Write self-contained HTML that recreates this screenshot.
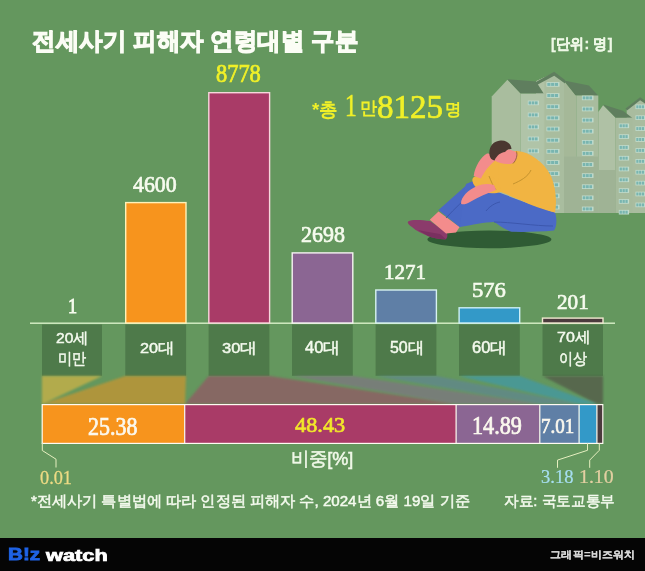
<!DOCTYPE html>
<html><head><meta charset="utf-8">
<style>
html,body{margin:0;padding:0;}
body{width:645px;height:571px;position:relative;overflow:hidden;background:#64975e;font-family:"Liberation Sans",sans-serif;}
.t{position:absolute;white-space:nowrap;line-height:1;transform-origin:0 0;}
.s{font-family:"Liberation Serif",serif;-webkit-text-stroke-width:0.7px;}
svg{position:absolute;left:0;top:0;}
</style></head><body>
<svg width="645" height="571" viewBox="0 0 645 571">
  <!-- baseline -->
  <rect x="30" y="322.5" width="585" height="1.4" fill="#d8f0c8"/>
  <!-- bars -->
  <g stroke-width="1.4">
    <rect x="125.7" y="202.6" width="60.3" height="120.4" fill="#f7941d" stroke="#fff2b8"/>
    <rect x="208.8" y="92.7" width="60.8" height="230.3" fill="#a93b67" stroke="#f8d6dc"/>
    <rect x="292.2" y="252.9" width="60.6" height="70.1" fill="#8b6693" stroke="#f6f4f2"/>
    <rect x="375.8" y="290" width="60.6" height="33" fill="#5f7fa6" stroke="#d8f2f0"/>
    <rect x="459.1" y="307.8" width="60.6" height="15.2" fill="#3399c8" stroke="#cdeff6"/>
    <rect x="542.5" y="318.1" width="60.5" height="4.9" fill="#4b3b3d" stroke="#f0e8d0"/>
  </g>
  <!-- label boxes -->
  <g fill="#4e7a4a">
    <rect x="42" y="324.5" width="60" height="51.3"/>
    <rect x="125.3" y="324.5" width="60.8" height="51.3"/>
    <rect x="208.6" y="324.5" width="60.8" height="51.3"/>
    <rect x="292" y="324.5" width="60.8" height="51.3"/>
    <rect x="375.6" y="324.5" width="60.8" height="51.3"/>
    <rect x="459" y="324.5" width="60.8" height="51.3"/>
    <rect x="542.5" y="324.5" width="60.5" height="51.3"/>
  </g>
  <!-- projections -->
  <defs><filter id="bl" x="-5%" y="-20%" width="110%" height="140%"><feGaussianBlur stdDeviation="1.1"/></filter></defs>
  <g opacity="0.5" filter="url(#bl)">
    <polygon points="42,376 102,376 42.5,404 42,404" fill="#ffc03a"/>
    <polygon points="125.3,376 186,376 185,404 42,404" fill="#f7941d"/>
    <polygon points="208.6,376 269.4,376 456,404 185,404" fill="#a93b67"/>
    <polygon points="292,376 352.8,376 539.6,404 456,404" fill="#8b6693"/>
    <polygon points="375.6,376 436.4,376 579,404 539.6,404" fill="#5f7fa6"/>
    <polygon points="459,376 519.8,376 596.8,404 579,404" fill="#3399c8"/>
    <polygon points="542.5,376 603,376 603,404 596.8,404" fill="#4b3b3d"/>
  </g>
  <!-- stacked bar -->
  <g>
    <rect x="42" y="404.6" width="142.4" height="38.8" fill="#f7941d"/>
    <rect x="184.4" y="404.6" width="271.7" height="38.8" fill="#a93b67"/>
    <rect x="456.1" y="404.6" width="83.5" height="38.8" fill="#8b6693"/>
    <rect x="539.6" y="404.6" width="39.3" height="38.8" fill="#5f7fa6"/>
    <rect x="578.9" y="404.6" width="17.9" height="38.8" fill="#3399c8"/>
    <rect x="596.8" y="404.6" width="6.2" height="38.8" fill="#4b3b3d"/>
  </g>
  <g fill="none" stroke="#fffbf2" stroke-width="1.2">
    <rect x="42.2" y="404.6" width="560.6" height="38.8"/>
    <line x1="184.7" y1="404.6" x2="184.7" y2="443.4"/>
    <line x1="456.1" y1="404.6" x2="456.1" y2="443.4"/>
    <line x1="539.8" y1="404.6" x2="539.8" y2="443.4"/>
    <line x1="579.1" y1="404.6" x2="579.1" y2="443.4"/>
    <line x1="596.9" y1="404.6" x2="596.9" y2="443.4"/>
  </g>
  <!-- leader lines -->
  <g fill="none" stroke="#e6efc0" stroke-width="1">
    <polyline points="42.3,443 42.3,450.5 56,459.2 56,467.5"/>
    <polyline points="587.5,443 587.5,450.3 557.5,460.1 557.5,467.8"/>
    <polyline points="599.3,443 599.3,450.3 589.7,460.1 589.7,467.8"/>
  </g>

  <!-- illustration: buildings -->
  <g id="bld">
    <!-- building 4 far right -->
    <polygon points="626.7,213 626.7,108 640.1,98.1 645,101.5 645,213" fill="#a9bc9f"/>
    <polygon points="625.5,108.5 640.1,97.3 645,100.5 645,103.5 640.1,100.2 627,110.5" fill="#5f7e5e"/>
    <!-- building 3 -->
    <polygon points="598.3,213 598.3,112 603.1,105.2 615.7,117.8 615.7,213" fill="#afc1a5"/>
    <polygon points="603.1,104.6 622.8,110.7 632.2,117.8 615.7,117.8" fill="#5f7e5e"/>
    <rect x="615.7" y="117.8" width="16.5" height="95.2" fill="#a7bb9d"/>
    <rect x="598.3" y="170" width="17.4" height="43" fill="#9fb395"/>
    <!-- building 2 right block -->
    <polygon points="564,213 564,81 575.5,95 576.3,95.5 576.3,213" fill="#a5b898"/>
    <polygon points="564,80.6 588.9,85.5 598.3,95.7 575.5,95.2" fill="#5f7e5e"/>
    <rect x="576.3" y="95.5" width="22" height="117.5" fill="#a8bc9e"/>
    <rect x="564" y="156.5" width="34.3" height="56.5" fill="#9fb395"/>
    <!-- tower -->
    <polygon points="536,213 536,81.2 554.2,72.7 564,81 564,213" fill="#a9bd9f"/>
    <polygon points="536,81.2 544.4,77.3 544.4,213 536,213" fill="#b1c3a6"/>
    <polygon points="535,82.5 554.2,71.8 565,80 565,83.5 554.2,75.8 535,86" fill="#5f7e5e"/>
    <!-- building 1 -->
    <polygon points="491.7,213 491.7,96.4 507.4,79.7 520.7,93.6 520.7,213" fill="#a9bd9e"/>
    <polygon points="507.4,79.3 536,81.4 543.7,93.6 520.7,93.6" fill="#5f7e5e"/>
    <rect x="520.7" y="93.6" width="23" height="119.4" fill="#b0c4a8"/>
  </g>
  <g>
    <rect x="527.8" y="100.6" width="11.2" height="4.6" fill="#c2dccd"/>
    <rect x="528.60" y="101.4" width="2.60" height="3.0" fill="#78b5b0"/>
    <rect x="531.80" y="101.4" width="2.60" height="3.0" fill="#78b5b0"/>
    <rect x="535.00" y="101.4" width="2.60" height="3.0" fill="#78b5b0"/>
    <rect x="527.8" y="112.6" width="11.2" height="4.6" fill="#c2dccd"/>
    <rect x="528.60" y="113.4" width="2.60" height="3.0" fill="#78b5b0"/>
    <rect x="531.80" y="113.4" width="2.60" height="3.0" fill="#78b5b0"/>
    <rect x="535.00" y="113.4" width="2.60" height="3.0" fill="#78b5b0"/>
    <rect x="527.8" y="124.6" width="11.2" height="4.6" fill="#c2dccd"/>
    <rect x="528.60" y="125.4" width="2.60" height="3.0" fill="#78b5b0"/>
    <rect x="531.80" y="125.4" width="2.60" height="3.0" fill="#78b5b0"/>
    <rect x="535.00" y="125.4" width="2.60" height="3.0" fill="#78b5b0"/>
    <rect x="527.8" y="136.6" width="11.2" height="4.6" fill="#c2dccd"/>
    <rect x="528.60" y="137.4" width="2.60" height="3.0" fill="#78b5b0"/>
    <rect x="531.80" y="137.4" width="2.60" height="3.0" fill="#78b5b0"/>
    <rect x="535.00" y="137.4" width="2.60" height="3.0" fill="#78b5b0"/>
    <rect x="527.8" y="148.6" width="11.2" height="4.6" fill="#c2dccd"/>
    <rect x="528.60" y="149.4" width="2.60" height="3.0" fill="#78b5b0"/>
    <rect x="531.80" y="149.4" width="2.60" height="3.0" fill="#78b5b0"/>
    <rect x="535.00" y="149.4" width="2.60" height="3.0" fill="#78b5b0"/>
    <rect x="527.8" y="160.6" width="11.2" height="4.6" fill="#c2dccd"/>
    <rect x="528.60" y="161.4" width="2.60" height="3.0" fill="#78b5b0"/>
    <rect x="531.80" y="161.4" width="2.60" height="3.0" fill="#78b5b0"/>
    <rect x="535.00" y="161.4" width="2.60" height="3.0" fill="#78b5b0"/>
    <rect x="527.8" y="172.6" width="11.2" height="4.6" fill="#c2dccd"/>
    <rect x="528.60" y="173.4" width="2.60" height="3.0" fill="#78b5b0"/>
    <rect x="531.80" y="173.4" width="2.60" height="3.0" fill="#78b5b0"/>
    <rect x="535.00" y="173.4" width="2.60" height="3.0" fill="#78b5b0"/>
    <rect x="527.8" y="184.6" width="11.2" height="4.6" fill="#c2dccd"/>
    <rect x="528.60" y="185.4" width="2.60" height="3.0" fill="#78b5b0"/>
    <rect x="531.80" y="185.4" width="2.60" height="3.0" fill="#78b5b0"/>
    <rect x="535.00" y="185.4" width="2.60" height="3.0" fill="#78b5b0"/>
    <rect x="527.8" y="196.6" width="11.2" height="4.6" fill="#c2dccd"/>
    <rect x="528.60" y="197.4" width="2.60" height="3.0" fill="#78b5b0"/>
    <rect x="531.80" y="197.4" width="2.60" height="3.0" fill="#78b5b0"/>
    <rect x="535.00" y="197.4" width="2.60" height="3.0" fill="#78b5b0"/>
    <rect x="527.8" y="208.6" width="11.2" height="4.6" fill="#c2dccd"/>
    <rect x="528.60" y="209.4" width="2.60" height="3.0" fill="#78b5b0"/>
    <rect x="531.80" y="209.4" width="2.60" height="3.0" fill="#78b5b0"/>
    <rect x="535.00" y="209.4" width="2.60" height="3.0" fill="#78b5b0"/>
    <rect x="546.5" y="82.1" width="13" height="4.6" fill="#c2dccd"/>
    <rect x="547.30" y="82.9" width="3.20" height="3.0" fill="#78b5b0"/>
    <rect x="551.10" y="82.9" width="3.20" height="3.0" fill="#78b5b0"/>
    <rect x="554.90" y="82.9" width="3.20" height="3.0" fill="#78b5b0"/>
    <rect x="546.5" y="93.2" width="13" height="4.6" fill="#c2dccd"/>
    <rect x="547.30" y="94.0" width="3.20" height="3.0" fill="#78b5b0"/>
    <rect x="551.10" y="94.0" width="3.20" height="3.0" fill="#78b5b0"/>
    <rect x="554.90" y="94.0" width="3.20" height="3.0" fill="#78b5b0"/>
    <rect x="546.5" y="104.4" width="13" height="4.6" fill="#c2dccd"/>
    <rect x="547.30" y="105.2" width="3.20" height="3.0" fill="#78b5b0"/>
    <rect x="551.10" y="105.2" width="3.20" height="3.0" fill="#78b5b0"/>
    <rect x="554.90" y="105.2" width="3.20" height="3.0" fill="#78b5b0"/>
    <rect x="546.5" y="115.6" width="13" height="4.6" fill="#c2dccd"/>
    <rect x="547.30" y="116.4" width="3.20" height="3.0" fill="#78b5b0"/>
    <rect x="551.10" y="116.4" width="3.20" height="3.0" fill="#78b5b0"/>
    <rect x="554.90" y="116.4" width="3.20" height="3.0" fill="#78b5b0"/>
    <rect x="546.5" y="126.7" width="13" height="4.6" fill="#c2dccd"/>
    <rect x="547.30" y="127.5" width="3.20" height="3.0" fill="#78b5b0"/>
    <rect x="551.10" y="127.5" width="3.20" height="3.0" fill="#78b5b0"/>
    <rect x="554.90" y="127.5" width="3.20" height="3.0" fill="#78b5b0"/>
    <rect x="546.5" y="137.9" width="13" height="4.6" fill="#c2dccd"/>
    <rect x="547.30" y="138.7" width="3.20" height="3.0" fill="#78b5b0"/>
    <rect x="551.10" y="138.7" width="3.20" height="3.0" fill="#78b5b0"/>
    <rect x="554.90" y="138.7" width="3.20" height="3.0" fill="#78b5b0"/>
    <rect x="546.5" y="149.0" width="13" height="4.6" fill="#c2dccd"/>
    <rect x="547.30" y="149.8" width="3.20" height="3.0" fill="#78b5b0"/>
    <rect x="551.10" y="149.8" width="3.20" height="3.0" fill="#78b5b0"/>
    <rect x="554.90" y="149.8" width="3.20" height="3.0" fill="#78b5b0"/>
    <rect x="546.5" y="160.2" width="13" height="4.6" fill="#c2dccd"/>
    <rect x="547.30" y="161.0" width="3.20" height="3.0" fill="#78b5b0"/>
    <rect x="551.10" y="161.0" width="3.20" height="3.0" fill="#78b5b0"/>
    <rect x="554.90" y="161.0" width="3.20" height="3.0" fill="#78b5b0"/>
    <rect x="546.5" y="171.3" width="13" height="4.6" fill="#c2dccd"/>
    <rect x="547.30" y="172.1" width="3.20" height="3.0" fill="#78b5b0"/>
    <rect x="551.10" y="172.1" width="3.20" height="3.0" fill="#78b5b0"/>
    <rect x="554.90" y="172.1" width="3.20" height="3.0" fill="#78b5b0"/>
    <rect x="546.5" y="182.5" width="13" height="4.6" fill="#c2dccd"/>
    <rect x="547.30" y="183.3" width="3.20" height="3.0" fill="#78b5b0"/>
    <rect x="551.10" y="183.3" width="3.20" height="3.0" fill="#78b5b0"/>
    <rect x="554.90" y="183.3" width="3.20" height="3.0" fill="#78b5b0"/>
    <rect x="546.5" y="193.6" width="13" height="4.6" fill="#c2dccd"/>
    <rect x="547.30" y="194.4" width="3.20" height="3.0" fill="#78b5b0"/>
    <rect x="551.10" y="194.4" width="3.20" height="3.0" fill="#78b5b0"/>
    <rect x="554.90" y="194.4" width="3.20" height="3.0" fill="#78b5b0"/>
    <rect x="546.5" y="204.8" width="13" height="4.6" fill="#c2dccd"/>
    <rect x="547.30" y="205.6" width="3.20" height="3.0" fill="#78b5b0"/>
    <rect x="551.10" y="205.6" width="3.20" height="3.0" fill="#78b5b0"/>
    <rect x="554.90" y="205.6" width="3.20" height="3.0" fill="#78b5b0"/>
    <rect x="581.9" y="95.6" width="11.6" height="4.6" fill="#c2dccd"/>
    <rect x="582.70" y="96.4" width="2.73" height="3.0" fill="#78b5b0"/>
    <rect x="586.03" y="96.4" width="2.73" height="3.0" fill="#78b5b0"/>
    <rect x="589.37" y="96.4" width="2.73" height="3.0" fill="#78b5b0"/>
    <rect x="581.9" y="106.7" width="11.6" height="4.6" fill="#c2dccd"/>
    <rect x="582.70" y="107.5" width="2.73" height="3.0" fill="#78b5b0"/>
    <rect x="586.03" y="107.5" width="2.73" height="3.0" fill="#78b5b0"/>
    <rect x="589.37" y="107.5" width="2.73" height="3.0" fill="#78b5b0"/>
    <rect x="581.9" y="117.8" width="11.6" height="4.6" fill="#c2dccd"/>
    <rect x="582.70" y="118.6" width="2.73" height="3.0" fill="#78b5b0"/>
    <rect x="586.03" y="118.6" width="2.73" height="3.0" fill="#78b5b0"/>
    <rect x="589.37" y="118.6" width="2.73" height="3.0" fill="#78b5b0"/>
    <rect x="581.9" y="128.9" width="11.6" height="4.6" fill="#c2dccd"/>
    <rect x="582.70" y="129.7" width="2.73" height="3.0" fill="#78b5b0"/>
    <rect x="586.03" y="129.7" width="2.73" height="3.0" fill="#78b5b0"/>
    <rect x="589.37" y="129.7" width="2.73" height="3.0" fill="#78b5b0"/>
    <rect x="581.9" y="140.0" width="11.6" height="4.6" fill="#c2dccd"/>
    <rect x="582.70" y="140.8" width="2.73" height="3.0" fill="#78b5b0"/>
    <rect x="586.03" y="140.8" width="2.73" height="3.0" fill="#78b5b0"/>
    <rect x="589.37" y="140.8" width="2.73" height="3.0" fill="#78b5b0"/>
    <rect x="581.9" y="151.1" width="11.6" height="4.6" fill="#c2dccd"/>
    <rect x="582.70" y="151.9" width="2.73" height="3.0" fill="#78b5b0"/>
    <rect x="586.03" y="151.9" width="2.73" height="3.0" fill="#78b5b0"/>
    <rect x="589.37" y="151.9" width="2.73" height="3.0" fill="#78b5b0"/>
    <rect x="581.9" y="162.2" width="11.6" height="4.6" fill="#c2dccd"/>
    <rect x="582.70" y="163.0" width="2.73" height="3.0" fill="#78b5b0"/>
    <rect x="586.03" y="163.0" width="2.73" height="3.0" fill="#78b5b0"/>
    <rect x="589.37" y="163.0" width="2.73" height="3.0" fill="#78b5b0"/>
    <rect x="581.9" y="173.3" width="11.6" height="4.6" fill="#c2dccd"/>
    <rect x="582.70" y="174.1" width="2.73" height="3.0" fill="#78b5b0"/>
    <rect x="586.03" y="174.1" width="2.73" height="3.0" fill="#78b5b0"/>
    <rect x="589.37" y="174.1" width="2.73" height="3.0" fill="#78b5b0"/>
    <rect x="581.9" y="184.4" width="11.6" height="4.6" fill="#c2dccd"/>
    <rect x="582.70" y="185.2" width="2.73" height="3.0" fill="#78b5b0"/>
    <rect x="586.03" y="185.2" width="2.73" height="3.0" fill="#78b5b0"/>
    <rect x="589.37" y="185.2" width="2.73" height="3.0" fill="#78b5b0"/>
    <rect x="581.9" y="195.5" width="11.6" height="4.6" fill="#c2dccd"/>
    <rect x="582.70" y="196.3" width="2.73" height="3.0" fill="#78b5b0"/>
    <rect x="586.03" y="196.3" width="2.73" height="3.0" fill="#78b5b0"/>
    <rect x="589.37" y="196.3" width="2.73" height="3.0" fill="#78b5b0"/>
    <rect x="581.9" y="206.6" width="11.6" height="4.6" fill="#c2dccd"/>
    <rect x="582.70" y="207.4" width="2.73" height="3.0" fill="#78b5b0"/>
    <rect x="586.03" y="207.4" width="2.73" height="3.0" fill="#78b5b0"/>
    <rect x="589.37" y="207.4" width="2.73" height="3.0" fill="#78b5b0"/>
    <rect x="618.8" y="123.5" width="10.3" height="4.6" fill="#c2dccd"/>
    <rect x="619.60" y="124.3" width="2.30" height="3.0" fill="#78b5b0"/>
    <rect x="622.50" y="124.3" width="2.30" height="3.0" fill="#78b5b0"/>
    <rect x="625.40" y="124.3" width="2.30" height="3.0" fill="#78b5b0"/>
    <rect x="618.8" y="134.3" width="10.3" height="4.6" fill="#c2dccd"/>
    <rect x="619.60" y="135.1" width="2.30" height="3.0" fill="#78b5b0"/>
    <rect x="622.50" y="135.1" width="2.30" height="3.0" fill="#78b5b0"/>
    <rect x="625.40" y="135.1" width="2.30" height="3.0" fill="#78b5b0"/>
    <rect x="618.8" y="145.1" width="10.3" height="4.6" fill="#c2dccd"/>
    <rect x="619.60" y="145.9" width="2.30" height="3.0" fill="#78b5b0"/>
    <rect x="622.50" y="145.9" width="2.30" height="3.0" fill="#78b5b0"/>
    <rect x="625.40" y="145.9" width="2.30" height="3.0" fill="#78b5b0"/>
    <rect x="618.8" y="155.9" width="10.3" height="4.6" fill="#c2dccd"/>
    <rect x="619.60" y="156.7" width="2.30" height="3.0" fill="#78b5b0"/>
    <rect x="622.50" y="156.7" width="2.30" height="3.0" fill="#78b5b0"/>
    <rect x="625.40" y="156.7" width="2.30" height="3.0" fill="#78b5b0"/>
    <rect x="618.8" y="166.7" width="10.3" height="4.6" fill="#c2dccd"/>
    <rect x="619.60" y="167.5" width="2.30" height="3.0" fill="#78b5b0"/>
    <rect x="622.50" y="167.5" width="2.30" height="3.0" fill="#78b5b0"/>
    <rect x="625.40" y="167.5" width="2.30" height="3.0" fill="#78b5b0"/>
    <rect x="618.8" y="177.5" width="10.3" height="4.6" fill="#c2dccd"/>
    <rect x="619.60" y="178.3" width="2.30" height="3.0" fill="#78b5b0"/>
    <rect x="622.50" y="178.3" width="2.30" height="3.0" fill="#78b5b0"/>
    <rect x="625.40" y="178.3" width="2.30" height="3.0" fill="#78b5b0"/>
    <rect x="618.8" y="188.3" width="10.3" height="4.6" fill="#c2dccd"/>
    <rect x="619.60" y="189.1" width="2.30" height="3.0" fill="#78b5b0"/>
    <rect x="622.50" y="189.1" width="2.30" height="3.0" fill="#78b5b0"/>
    <rect x="625.40" y="189.1" width="2.30" height="3.0" fill="#78b5b0"/>
    <rect x="618.8" y="199.1" width="10.3" height="4.6" fill="#c2dccd"/>
    <rect x="619.60" y="199.9" width="2.30" height="3.0" fill="#78b5b0"/>
    <rect x="622.50" y="199.9" width="2.30" height="3.0" fill="#78b5b0"/>
    <rect x="625.40" y="199.9" width="2.30" height="3.0" fill="#78b5b0"/>
    <rect x="618.8" y="209.9" width="10.3" height="4.6" fill="#c2dccd"/>
    <rect x="619.60" y="210.7" width="2.30" height="3.0" fill="#78b5b0"/>
    <rect x="622.50" y="210.7" width="2.30" height="3.0" fill="#78b5b0"/>
    <rect x="625.40" y="210.7" width="2.30" height="3.0" fill="#78b5b0"/>
    <rect x="635.5" y="104.5" width="10" height="4.6" fill="#c2dccd"/>
    <rect x="636.30" y="105.3" width="2.20" height="3.0" fill="#78b5b0"/>
    <rect x="639.10" y="105.3" width="2.20" height="3.0" fill="#78b5b0"/>
    <rect x="641.90" y="105.3" width="2.20" height="3.0" fill="#78b5b0"/>
    <rect x="635.5" y="115.4" width="10" height="4.6" fill="#c2dccd"/>
    <rect x="636.30" y="116.2" width="2.20" height="3.0" fill="#78b5b0"/>
    <rect x="639.10" y="116.2" width="2.20" height="3.0" fill="#78b5b0"/>
    <rect x="641.90" y="116.2" width="2.20" height="3.0" fill="#78b5b0"/>
    <rect x="635.5" y="126.3" width="10" height="4.6" fill="#c2dccd"/>
    <rect x="636.30" y="127.1" width="2.20" height="3.0" fill="#78b5b0"/>
    <rect x="639.10" y="127.1" width="2.20" height="3.0" fill="#78b5b0"/>
    <rect x="641.90" y="127.1" width="2.20" height="3.0" fill="#78b5b0"/>
    <rect x="635.5" y="137.2" width="10" height="4.6" fill="#c2dccd"/>
    <rect x="636.30" y="138.0" width="2.20" height="3.0" fill="#78b5b0"/>
    <rect x="639.10" y="138.0" width="2.20" height="3.0" fill="#78b5b0"/>
    <rect x="641.90" y="138.0" width="2.20" height="3.0" fill="#78b5b0"/>
    <rect x="635.5" y="148.1" width="10" height="4.6" fill="#c2dccd"/>
    <rect x="636.30" y="148.9" width="2.20" height="3.0" fill="#78b5b0"/>
    <rect x="639.10" y="148.9" width="2.20" height="3.0" fill="#78b5b0"/>
    <rect x="641.90" y="148.9" width="2.20" height="3.0" fill="#78b5b0"/>
    <rect x="635.5" y="159.0" width="10" height="4.6" fill="#c2dccd"/>
    <rect x="636.30" y="159.8" width="2.20" height="3.0" fill="#78b5b0"/>
    <rect x="639.10" y="159.8" width="2.20" height="3.0" fill="#78b5b0"/>
    <rect x="641.90" y="159.8" width="2.20" height="3.0" fill="#78b5b0"/>
    <rect x="635.5" y="169.9" width="10" height="4.6" fill="#c2dccd"/>
    <rect x="636.30" y="170.7" width="2.20" height="3.0" fill="#78b5b0"/>
    <rect x="639.10" y="170.7" width="2.20" height="3.0" fill="#78b5b0"/>
    <rect x="641.90" y="170.7" width="2.20" height="3.0" fill="#78b5b0"/>
    <rect x="635.5" y="180.8" width="10" height="4.6" fill="#c2dccd"/>
    <rect x="636.30" y="181.6" width="2.20" height="3.0" fill="#78b5b0"/>
    <rect x="639.10" y="181.6" width="2.20" height="3.0" fill="#78b5b0"/>
    <rect x="641.90" y="181.6" width="2.20" height="3.0" fill="#78b5b0"/>
    <rect x="635.5" y="191.7" width="10" height="4.6" fill="#c2dccd"/>
    <rect x="636.30" y="192.5" width="2.20" height="3.0" fill="#78b5b0"/>
    <rect x="639.10" y="192.5" width="2.20" height="3.0" fill="#78b5b0"/>
    <rect x="641.90" y="192.5" width="2.20" height="3.0" fill="#78b5b0"/>
    <rect x="635.5" y="202.6" width="10" height="4.6" fill="#c2dccd"/>
    <rect x="636.30" y="203.4" width="2.20" height="3.0" fill="#78b5b0"/>
    <rect x="639.10" y="203.4" width="2.20" height="3.0" fill="#78b5b0"/>
    <rect x="641.90" y="203.4" width="2.20" height="3.0" fill="#78b5b0"/>
  </g>
  <!-- man -->
  <ellipse cx="489.4" cy="239.4" rx="62" ry="8.8" fill="#2f5b34"/>
  <path d="M408.1,221.5 C412,219 422,220 430,221 L447,233 C448,236 447,239 445,239.5 C438,239 432,238 428,236 C422,233 416,231 412,227 C409,225 407,223 408.1,221.5 Z" fill="#8b3b6b"/>
  <path d="M418,230 C424,231 432,233 440,234 L446,239.3 C438,239 432,238 428,236 Z" fill="#7a3060"/>
  <polygon points="429.8,219.7 438.5,211.5 459.6,227.1 456,232.5 446,233.5" fill="#f38c8c"/>
  <path d="M438.5,210 L469.5,182.4 C474,180.5 480,180.5 486,182 L486,211 C478,216 468,222 459.6,227.1 Z" fill="#4a69c5"/>
  <path d="M466,184 C472,181 480,184 490,189 C505,195 530,204 555,212.5 C557,218 557,226 554,230.5 C540,232 522,232 511.7,231.8 C503,229 498,224 494,222 C485,222 472,225 459.6,227.1 C462,215 463,195 466,184 Z" fill="#4b6ac6"/>
  <path d="M446,218 C455,208 464,200 472,193 M494,222 C510,222 535,226 553,226 M486,211 C490,206 495,203 500,202" fill="none" stroke="#3a55aa" stroke-width="0.9"/>
  <path d="M517,151 C530,152 544,162 551,176 C556,188 557,202 555,212.5 C545,210 530,205 520,200 C510,196 502,192 497,190.8 C494,185 490,178 489,170 C490,162 494,157 500,154 C506,151.5 512,151 517,151 Z" fill="#f1b442"/>
  <polygon points="480,177 489,160 498,163 499,192 481,190" fill="#f1b442"/>
  <path d="M472.4,181 C472,177 475,175.5 479,176 L490,176 C496,178 500,184 501,192 C495,194 485,194 480,190 C476,188 473,185 472.4,181 Z" fill="#f1b442"/>
  <path d="M513,184 C520,181 528,177 531,170 M489,176 C491,181 493,186 496,190" fill="none" stroke="#b98a2a" stroke-width="0.8"/>
  <path d="M487,153.5 C481,157 475,166 473.7,176 L481,178.5 C484,172 490,164 496,160 C494,156 491,153.5 487,153.5 Z" fill="#f38c8c"/>
  <path d="M461,203.5 C461,197 468,190 477,186 C482,184 488,183 494,185 L496,190 C488,193 478,197 470,202 C466,204.5 462,205 461,203.5 Z" fill="#f38c8c"/>
  <path d="M494,160 C497,153 502,150 508,149.5 C513,150 517,152 517.5,155 C517,159 515,163 510,164 C504,164.5 498,163 494,160 Z" fill="#f38c8c"/>
  <path d="M516.5,151.5 C517.5,155 516.5,160 513,163.5" fill="none" stroke="#8a5a35" stroke-width="0.8"/>
  <path d="M489.5,155 C488.5,147 493,141 500.5,140.5 C507,140 511,144 511.5,149 C509,148.5 506.5,150 505,152 C501,152.5 497,155 494.5,160.4 C491.5,160 490,158 489.5,155 Z" fill="#4a3730"/>
  <!-- footer -->
  <rect x="0" y="538" width="645" height="33" fill="#050505"/>
</svg>

<div class="t" id="t0" style="-webkit-text-stroke:1.4px #fbfdf5;left:31.96px;top:28.56px;font-size:28px;font-weight:bold;color:#fbfdf5;transform:scale(0.8427,0.8623);">전세사기 피해자 연령대별 구분</div>
<div class="t" id="t1" style="font-weight:bold;-webkit-text-stroke:0.3px currentColor;left:551.24px;top:36.04px;font-size:15px;color:#eef8e6;transform:scale(0.9607,1.03);">[단위: 명]</div>

<div class="t" id="t2" style="left:311.95px;top:99.62px;font-size:17px;font-weight:bold;color:#f0f028;transform:scale(1.1046,1.1328);">*총</div>
<div class="t s" id="t3" style="left:344.54px;top:90.77px;font-size:33px;color:#f0f028;transform:scale(0.7088,0.9379);">1</div>
<div class="t" id="t4" style="left:359.98px;top:98.76px;font-size:17px;font-weight:bold;color:#f0f028;transform:scale(1.0198,1.0708);">만</div>
<div class="t s" id="t5" style="left:376.98px;top:89.68px;font-size:33px;color:#f0f028;transform:scale(1.0,1.0193);">8125</div>
<div class="t" id="t6" style="left:444.85px;top:99.5px;font-size:15px;font-weight:bold;color:#f0f028;transform:scale(1.0998,1.1466);">명</div>

<!-- values -->
<div class="t s" id="t7" style="left:67.9px;top:295.36px;font-size:22px;color:#f6fbee;-webkit-text-stroke-width:1px;transform:scale(0.8268,0.9737);">1</div>
<div class="t s" id="t8" style="left:133.39px;top:173.17px;font-size:22px;color:#f6fbee;transform:scale(0.9922,1.0548);">4600</div>
<div class="t s" id="t9" style="left:216.41px;top:61.96px;font-size:23px;color:#f0f028;transform:scale(0.9743,1.0647);">8778</div>
<div class="t s" id="t10" style="left:300.82px;top:222.9px;font-size:22px;color:#f6fbee;transform:scale(0.9977,1.0644);">2698</div>
<div class="t s" id="t11" style="left:384.12px;top:261.4px;font-size:22px;color:#f6fbee;transform:scale(0.9542,1.0);">1271</div>
<div class="t s" id="t12" style="left:471.7px;top:279.31px;font-size:22px;color:#f6fbee;transform:scale(1.0264,0.9778);">576</div>
<div class="t s" id="t13" style="left:556.77px;top:292.24px;font-size:22px;color:#f6fbee;transform:scale(0.9608,0.9713);">201</div>

<!-- category labels -->
<div class="t" id="t14" style="-webkit-text-stroke:0.5px currentColor;left:56.41px;top:330.91px;font-size:16px;color:#f4faee;transform:scale(0.9749,0.9507);">20세</div>
<div class="t" id="t15" style="-webkit-text-stroke:0.5px currentColor;left:57.9px;top:350.58px;font-size:16px;color:#f4faee;transform:scale(0.8724,0.9822);">미만</div>
<div class="t" id="t16" style="-webkit-text-stroke:0.5px currentColor;left:139.65px;top:341.13px;font-size:16px;color:#f4faee;transform:scale(1.0146,0.9229);">20대</div>
<div class="t" id="t17" style="-webkit-text-stroke:0.5px currentColor;left:222.2px;top:341.13px;font-size:16px;color:#f4faee;transform:scale(1.0321,0.9229);">30대</div>
<div class="t" id="t18" style="-webkit-text-stroke:0.5px currentColor;left:305.26px;top:340.22px;font-size:16px;color:#f4faee;transform:scale(1.0335,0.9822);">40대</div>
<div class="t" id="t19" style="-webkit-text-stroke:0.5px currentColor;left:390.12px;top:340.22px;font-size:16px;color:#f4faee;transform:scale(0.9972,0.9822);">50대</div>
<div class="t" id="t20" style="-webkit-text-stroke:0.5px currentColor;left:472.38px;top:340.22px;font-size:16px;color:#f4faee;transform:scale(1.0335,0.9822);">60대</div>
<div class="t" id="t21" style="-webkit-text-stroke:0.5px currentColor;left:556.6px;top:330.34px;font-size:16px;color:#f4faee;transform:scale(0.9991,0.958);">70세</div>
<div class="t" id="t22" style="-webkit-text-stroke:0.5px currentColor;left:558.5px;top:351.48px;font-size:16px;color:#f4faee;transform:scale(0.8792,1.0);">이상</div>

<!-- stacked values -->
<div class="t s" id="t23" style="left:88.44px;top:414.51px;font-size:23px;color:#fbf8ee;transform:scale(0.9539,1.0536);">25.38</div>
<div class="t s" id="t24" style="left:295.21px;top:414.09px;font-size:23px;color:#f2e82a;transform:scale(0.97,0.9272);">48.43</div>
<div class="t s" id="t25" style="left:472.33px;top:413.84px;font-size:23px;color:#fbf8ee;transform:scale(0.9643,1.0525);">14.89</div>
<div class="t s" id="t26" style="left:541.48px;top:416.11px;font-size:21px;color:#fbf8ee;transform:scale(0.9049,0.993);">7.01</div>

<div class="t" id="t27" style="-webkit-text-stroke:0.55px currentColor;left:290.63px;top:448.67px;font-size:19px;color:#f0f8e8;transform:scale(0.9511,0.978);">비중[%]</div>
<div class="t s" id="t28" style="left:40.1px;top:467.02px;font-size:18px;color:#eedb84;-webkit-text-stroke-width:0.25px;transform:scale(1.0155,1.1047);">0.01</div>
<div class="t s" id="t29" style="left:541.13px;top:467.97px;font-size:18px;color:#a6def0;-webkit-text-stroke-width:0.25px;transform:scale(1.0311,0.9915);">3.18</div>
<div class="t s" id="t30" style="left:579.04px;top:467.97px;font-size:18px;color:#e3cfa2;-webkit-text-stroke-width:0.25px;transform:scale(1.0991,0.9915);">1.10</div>

<div class="t" id="t31" style="-webkit-text-stroke:0.55px currentColor;left:30.6px;top:494.49px;font-size:16px;color:#f4faee;transform:scale(0.9437,0.9268);">*전세사기 특별법에 따라 인정된 피해자 수, 2024년 6월 19일 기준</div>
<div class="t" id="t32" style="-webkit-text-stroke:0.55px currentColor;left:503.68px;top:494.24px;font-size:16px;color:#f4faee;transform:scale(0.9173,0.9397);">자료: 국토교통부</div>

<div class="t" id="t33" style="left:7.62px;top:546.49px;font-size:19px;font-weight:bold;color:#1f63e6;-webkit-text-stroke:0.9px #1f63e6;transform:scale(1.085,0.8786);">B!z</div>
<div class="t" id="t34" style="left:46.13px;top:548.12px;font-size:19px;font-weight:bold;color:#ffffff;-webkit-text-stroke:0.9px #ffffff;transform:scale(1.1455,0.833);">watch</div>
<div class="t" id="t35" style="font-weight:bold;-webkit-text-stroke:0.2px currentColor;left:549.66px;top:549.49px;font-size:12px;color:#d6d6d6;transform:scale(0.9429,0.8612);">그래픽=비즈워치</div>
</body></html>
